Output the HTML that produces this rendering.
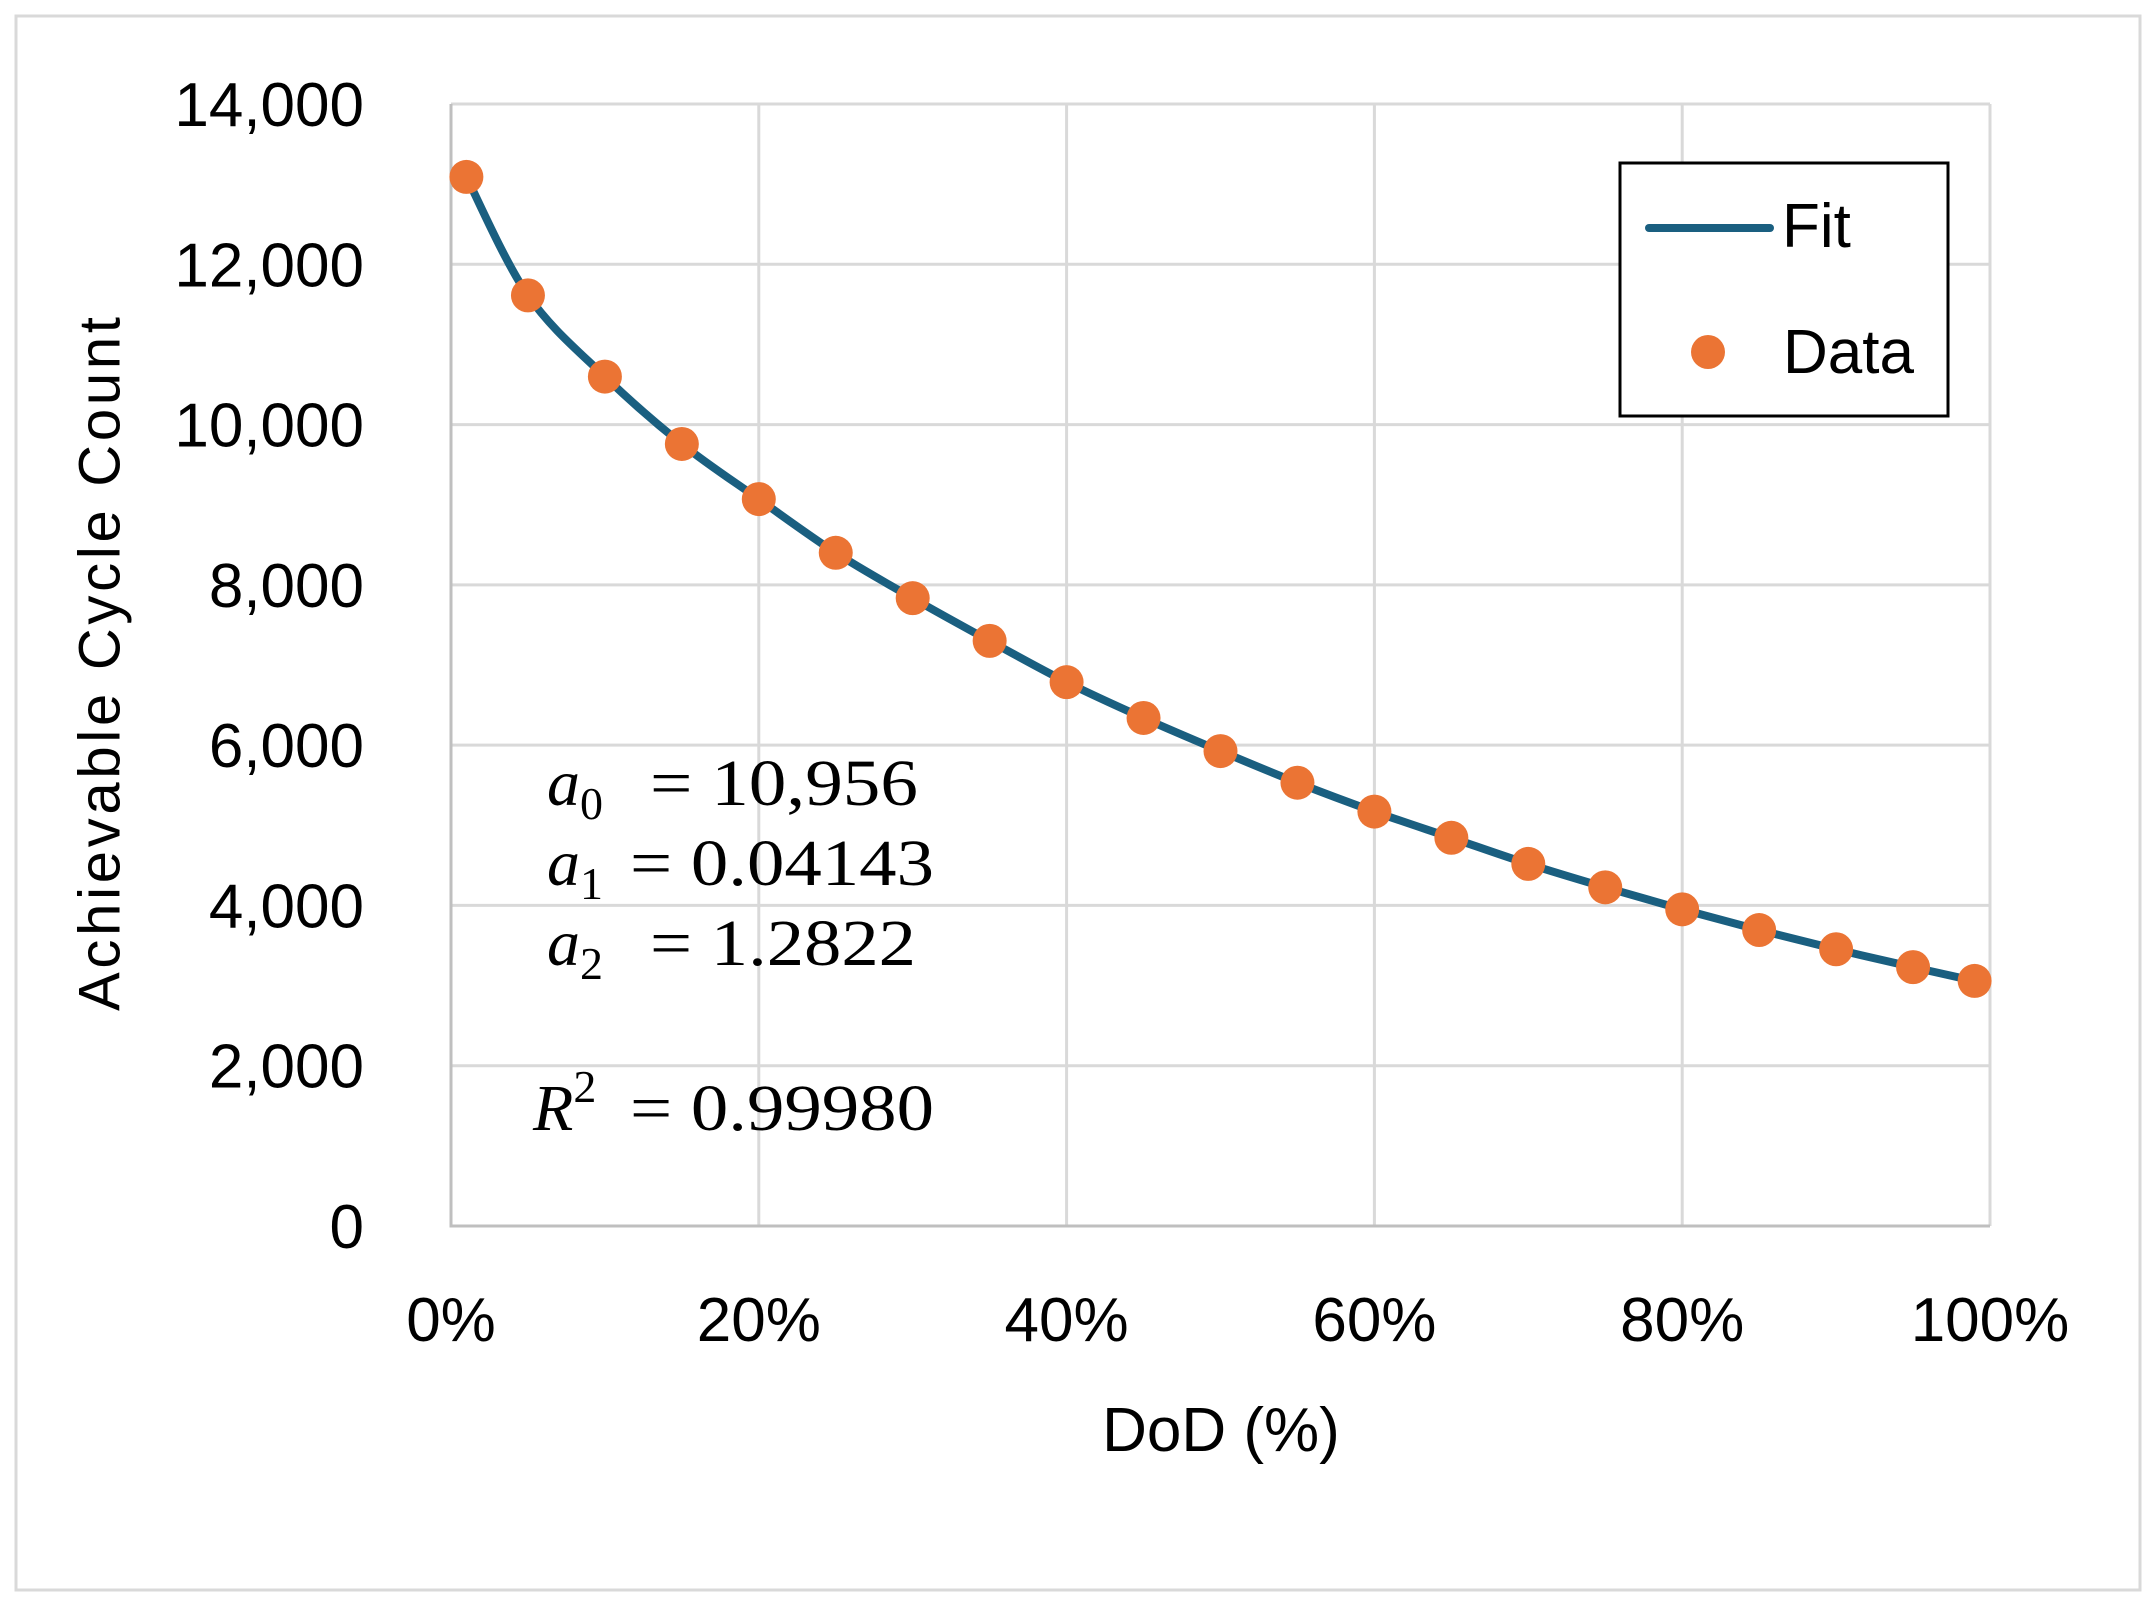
<!DOCTYPE html>
<html><head><meta charset="utf-8"><style>
html,body{margin:0;padding:0;background:#fff}
svg{display:block}
text{font-family:"Liberation Sans",sans-serif;fill:#000}
.ser{font-family:"Liberation Serif",serif}
</style></head><body>
<svg id="chart" width="2156" height="1608" viewBox="0 0 2156 1608">
<rect x="16" y="16" width="2124" height="1574" fill="#fff" stroke="#d9d9d9" stroke-width="3"/>
<g id="grid"></g>
<g id="axes"></g>
<g id="series"></g>
<text x="100" y="664" transform="rotate(-90 100 664)" text-anchor="middle" dominant-baseline="central" font-size="58" textLength="694">Achievable Cycle Count</text>
<text x="1221" y="1451" text-anchor="middle" font-size="62">DoD (%)</text>
<g class="ser" font-size="66">
<text class="ser" x="547" y="805" font-style="italic">a<tspan font-size="46" dy="14" font-style="normal">0</tspan></text>
<text class="ser" x="650" y="805" textLength="268" lengthAdjust="spacingAndGlyphs">= 10,956</text>
<text class="ser" x="547" y="885" font-style="italic">a<tspan font-size="46" dy="14" font-style="normal">1</tspan></text>
<text class="ser" x="630" y="885" textLength="304" lengthAdjust="spacingAndGlyphs">= 0.04143</text>
<text class="ser" x="547" y="965" font-style="italic">a<tspan font-size="46" dy="14" font-style="normal">2</tspan></text>
<text class="ser" x="650" y="965" textLength="266" lengthAdjust="spacingAndGlyphs">= 1.2822</text>
<text class="ser" x="533" y="1130" font-style="italic">R<tspan font-size="46" dy="-28" font-style="normal">2</tspan></text>
<text class="ser" x="630" y="1130" textLength="304" lengthAdjust="spacingAndGlyphs">= 0.99980</text>
</g>
<g>
<rect x="1620" y="163" width="328" height="253" fill="#fff" stroke="#000" stroke-width="3"/>
<line x1="1649" y1="228" x2="1770" y2="228" stroke="#1a5f80" stroke-width="8" stroke-linecap="round"/>
<text x="1782" y="247" font-size="62">Fit</text>
<circle cx="1708" cy="352" r="17" fill="#eb7434"/>
<text x="1783" y="373" font-size="62">Data</text>
</g>
</svg>
<script>
const xTickValues=[0,20,40,60,80,100];
const xTickLabels=["0%","20%","40%","60%","80%","100%"];
const yTickValues=[0,2000,4000,6000,8000,10000,12000,14000];
const yTickLabels=["0","2,000","4,000","6,000","8,000","10,000","12,000","14,000"];
const dod=[1,5,10,15,20,25,30,35,40,45,50,55,60,65,70,75,80,85,90,95,99];
const cycles=[13090,11612,10599,9758,9070,8400,7834,7301,6786,6339,5926,5531,5171,4844,4518,4226,3951,3693,3453,3230,3058];
const fitValues=[13090,11612,10599,9758,9070,8400,7834,7301,6786,6339,5926,5531,5171,4844,4518,4226,3951,3693,3453,3230,3058];
const NS='http://www.w3.org/2000/svg';
const X0=451,X1=1990,Y0=1226,Y1=104;
function xs(v){return X0+(v-0)/(100-0)*(X1-X0);}
function ys(v){return Y0-(v-0)/(14000-0)*(Y0-Y1);}
function mk(tag,attrs,parent){const e=document.createElementNS(NS,tag);for(const k in attrs)e.setAttribute(k,attrs[k]);parent.appendChild(e);return e;}
const grid=document.getElementById('grid'),axes=document.getElementById('axes'),series=document.getElementById('series');
xTickValues.forEach((v,i)=>{
  if(v>0){const l=mk('line',{x1:xs(v),x2:xs(v),y1:Y1,y2:Y0,stroke:'#d9d9d9','stroke-width':3},grid);
  
  }
  const t=mk('text',{x:xs(v),y:1341,'text-anchor':'middle','font-size':62},axes);t.textContent=xTickLabels[i];
  
  
});
yTickValues.forEach((v,i)=>{
  if(v>0){const l=mk('line',{x1:X0,x2:X1,y1:ys(v),y2:ys(v),stroke:'#d9d9d9','stroke-width':3},grid);
  
  }
  const t=mk('text',{x:364,y:ys(v)+22,'text-anchor':'end','font-size':62},axes);t.textContent=yTickLabels[i];
  
  
});
const ax=mk('path',{d:`M${X0} ${Y1} V${Y0} H${X1}`,fill:'none',stroke:'#bfbfbf','stroke-width':3},axes);


const pts=dod.map((d,i)=>[xs(d),ys(fitValues[i])]);
let d=`M${pts[0][0]} ${pts[0][1]}`;
for(let i=0;i<pts.length-1;i++){
  const p0=pts[Math.max(i-1,0)],p1=pts[i],p2=pts[i+1],p3=pts[Math.min(i+2,pts.length-1)];
  const c1=[p1[0]+(p2[0]-p0[0])/6,p1[1]+(p2[1]-p0[1])/6],c2=[p2[0]-(p3[0]-p1[0])/6,p2[1]-(p3[1]-p1[1])/6];
  d+=` C${c1[0]} ${c1[1]} ${c2[0]} ${c2[1]} ${p2[0]} ${p2[1]}`;
}
const fl=mk('path',{d:d,fill:'none',stroke:'#1a5f80','stroke-width':8,'stroke-linecap':'round'},series);


dod.forEach((v,i)=>{
  const c=mk('circle',{cx:xs(v),cy:ys(cycles[i]),r:17,fill:'#eb7434'},series);
  
  
});
</script>
</body></html>
